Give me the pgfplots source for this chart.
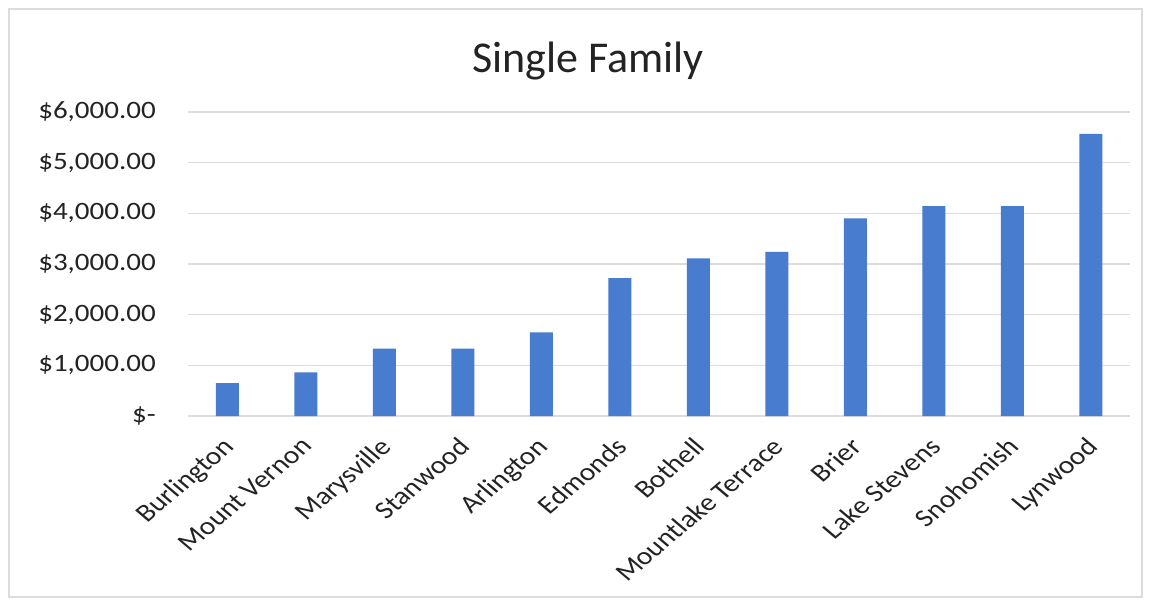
\documentclass[border=0pt]{standalone}
\usepackage{pgfplots}
\pgfplotsset{compat=1.18}
\usepackage{fontspec}
\setmainfont{Carlito}
\definecolor{barblue}{RGB}{72,124,206}
\definecolor{gridgray}{RGB}{220,220,220}
\definecolor{txt}{RGB}{35,35,35}
\begin{document}
\begin{tikzpicture}
\useasboundingbox (0,0) rectangle (1152bp,-603bp);
\fill[white] (0,0) rectangle (1152bp,-603bp);
\draw[gridgray, line width=1.5bp] (9bp,-9bp) rectangle (1142bp,-597bp);
\node[txt, font=\fontsize{44bp}{50bp}\selectfont] at (588bp,-61bp) {Single Family};
\begin{axis}[
  at={(188bp,-416bp)}, anchor=south west,
  scale only axis, width=942bp, height=304bp,
  xmin=-0.5, xmax=11.5, ymin=0, ymax=6000,
  axis line style={draw=none},
  major tick length=0pt,
  ymajorgrids, grid style={gridgray, line width=1.3bp},
  xtick={0,...,11},
  xticklabels={Burlington, Mount Vernon, Marysville, Stanwood, Arlington, Edmonds, Bothell, Mountlake Terrace, Brier, Lake Stevens, Snohomish, Lynwood},
  ytick={0,1000,2000,3000,4000,5000,6000},
  yticklabels={\$-\hspace{0.6em}, \$1{,}000.00, \$2{,}000.00, \$3{,}000.00, \$4{,}000.00, \$5{,}000.00, \$6{,}000.00},
  /pgf/number format/assume math mode=true,
  tick label style={font=\fontsize{25bp}{30bp}\selectfont, text=txt},
  yticklabel style={xshift=-32bp, xscale=1.16, anchor=east, inner sep=0pt},
  xticklabel style={xshift=-6bp, yshift=-20bp, xscale=1.18, rotate=45, anchor=north east, inner sep=0pt},
]
\addplot[ybar, bar width=23bp, fill=barblue, draw=none] coordinates {
 (0,650) (1,860) (2,1330) (3,1330) (4,1650) (5,2720) (6,3110) (7,3240) (8,3900) (9,4140) (10,4140) (11,5570)};
\end{axis}
\end{tikzpicture}
\end{document}
